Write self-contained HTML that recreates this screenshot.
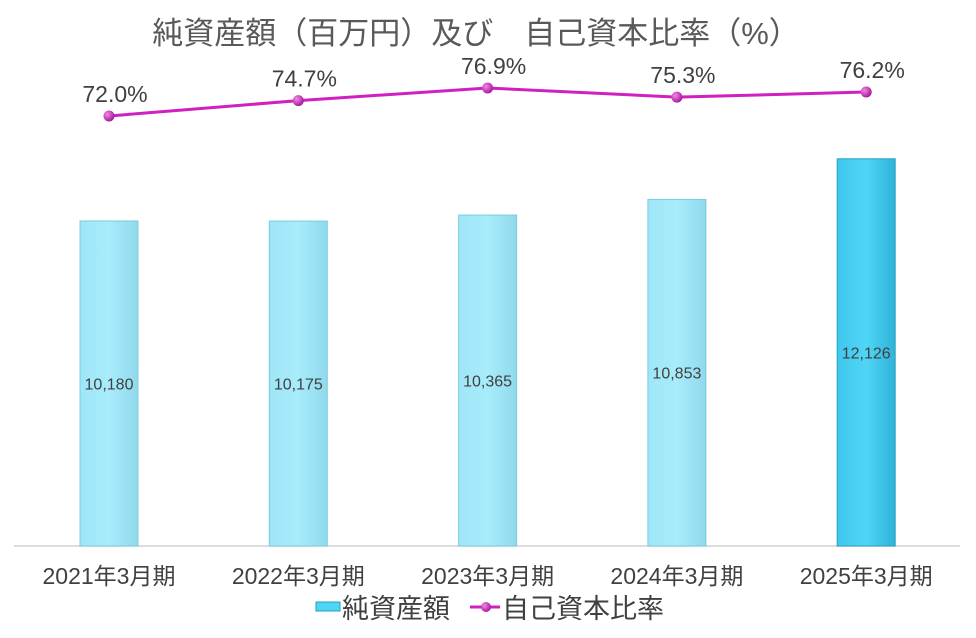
<!DOCTYPE html>
<html><head><meta charset="utf-8">
<style>
body{margin:0;background:#fff;}
svg{display:block;font-family:"Liberation Sans","Noto Sans CJK JP",sans-serif;}
</style></head>
<body>
<svg id="chart" width="976" height="638" viewBox="0 0 976 638" xmlns="http://www.w3.org/2000/svg">
<defs>
<linearGradient id="barLight" x1="0" x2="1"><stop offset="0" stop-color="#9ee6f7"/><stop offset="0.5" stop-color="#a8ecfb"/><stop offset="1" stop-color="#8fd9ec"/></linearGradient>
<linearGradient id="barDark" x1="0" x2="1"><stop offset="0" stop-color="#3fc8ec"/><stop offset="0.5" stop-color="#4fd5f6"/><stop offset="1" stop-color="#2fb3d8"/></linearGradient>
<radialGradient id="dot" cx="0.35" cy="0.35" r="0.7"><stop offset="0" stop-color="#f08ae0"/><stop offset="1" stop-color="#a4139a"/></radialGradient>
</defs>
<text x="476" y="44" text-anchor="middle" font-size="31" fill="#595959">純資産額（百万円）及び　自己資本比率（%）</text>
<line x1="14" y1="546" x2="960" y2="546" stroke="#d0d0d0" stroke-width="1.5"/>
<g id="bars"></g>
<g id="line"></g>
<g id="xlabels"></g>
<g>
<rect x="316" y="602" width="24" height="9" fill="#4fd5f6" stroke="#2a9fc0"/>
<text x="342" y="618" font-size="27" fill="#404040">純資産額</text>
<line x1="470" y1="607" x2="500" y2="607" stroke="#d21fbf" stroke-width="3"/>
<circle cx="486" cy="607" r="5" fill="url(#dot)"/>
<text x="502" y="618" font-size="27" fill="#404040">自己資本比率</text>
</g>
</svg>
<script>
const categories=["2021年3月期","2022年3月期","2023年3月期","2024年3月期","2025年3月期"];
const netAssets=[10180,10175,10365,10853,12126];
const netAssetLabels=["10,180","10,175","10,365","10,853","12,126"];
const equityRatio=[72.0,74.7,76.9,75.3,76.2];
const ratioLabels=["72.0%","74.7%","76.9%","75.3%","76.2%"];
const NS="http://www.w3.org/2000/svg";
function xPos(i){return 109+i*189.3;}
function yBar(v){return 546-v*0.03193;}
function yLine(v){return 116-(v-72)*5.71;}
function mk(tag,attrs,parent){const e=document.createElementNS(NS,tag);for(const k in attrs)e.setAttribute(k,attrs[k]);parent.appendChild(e);return e;}
const gb=document.getElementById('bars'),gl=document.getElementById('line'),gx=document.getElementById('xlabels');
netAssets.forEach((v,i)=>{
 const last=i===netAssets.length-1;
 const r=mk('rect',{x:xPos(i)-29,y:yBar(v),width:58,height:546-yBar(v),fill:last?'url(#barDark)':'url(#barLight)',stroke:last?'#2a9fc0':'#7ccbe0','stroke-width':1},gb);
 
 
 const t=mk('text',{x:xPos(i),y:(yBar(v)+546)/2+6,'text-anchor':'middle','font-size':16,fill:'#404040'},gb);
 t.textContent=netAssetLabels[i];
 
 
 const c=mk('text',{x:xPos(i),y:584,'text-anchor':'middle','font-size':23,fill:'#404040'},gx);
 c.textContent=categories[i];
 
 
});
const pts=equityRatio.map((v,i)=>xPos(i)+','+yLine(v)).join(' ');
const pl=mk('polyline',{points:pts,fill:'none',stroke:'#d21fbf','stroke-width':3},gl);


equityRatio.forEach((v,i)=>{
 const c=mk('circle',{cx:xPos(i),cy:yLine(v),r:5.5,fill:'url(#dot)'},gl);
 
 
 const t=mk('text',{x:xPos(i)+6,y:yLine(v)-14,'text-anchor':'middle','font-size':23,fill:'#404040'},gl);
 t.textContent=ratioLabels[i];
 
 
});
</script>
</body></html>
